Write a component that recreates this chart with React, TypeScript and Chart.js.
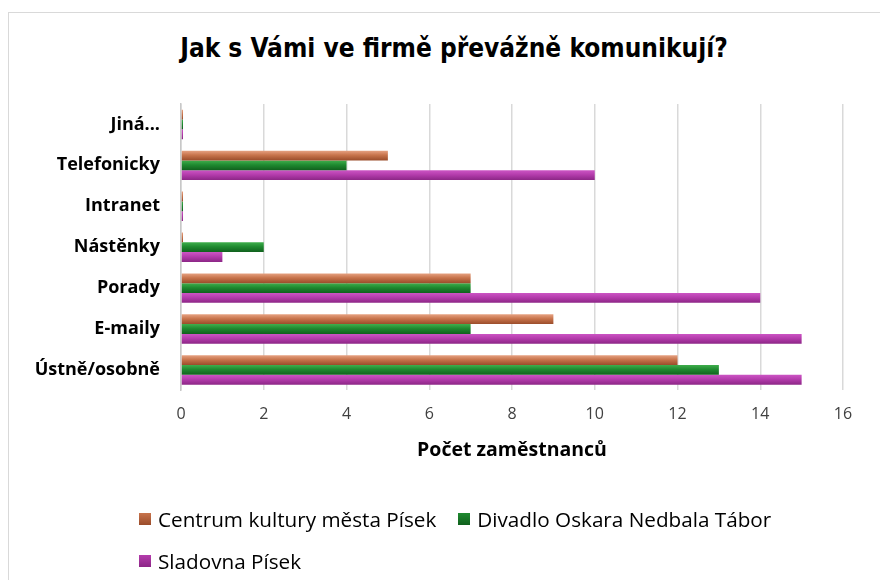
import React, { useEffect, useRef } from 'react';
import { Chart, registerables } from 'chart.js';

Chart.register(...registerables);

const categories = ['Jiná...', 'Telefonicky', 'Intranet', 'Nástěnky', 'Porady', 'E-maily', 'Ústně/osobně'];
const seriesNames = ['Centrum kultury města Písek', 'Divadlo Oskara Nedbala Tábor', 'Sladovna Písek'];
const centrumValues = [0, 5, 0, 0, 7, 9, 12];
const divadloValues = [0, 4, 0, 2, 7, 7, 13];
const sladovnaValues = [0, 10, 0, 1, 14, 15, 15];
const xTicks = [0, 2, 4, 6, 8, 10, 12, 14, 16];
const chartTitle = 'Jak s Vámi ve firmě převážně komunikují?';
const axisTitle = 'Počet zaměstnanců';

const shades = [
  ['#e6a282', '#c8744c', '#9a4c2a'],
  ['#3fae4c', '#1f8a30', '#10601d'],
  ['#cc55c4', '#b43cac', '#8c2686'],
];
const baseColors = ['#c8744c', '#1f8a30', '#b43cac'];

const FONT = "'Open Sans', 'Liberation Sans', sans-serif";
const TITLE_FONT = "'DejaVu Sans Condensed', 'Liberation Sans Narrow', 'Liberation Sans', sans-serif";

const gradientPlugin = {
  id: 'barGradient',
  beforeDatasetsDraw(chart: any) {
    const ctx = chart.ctx;
    chart.data.datasets.forEach((_ds: any, di: number) => {
      const meta = chart.getDatasetMeta(di);
      const st = shades[di];
      meta.data.forEach((bar: any) => {
        const { y, height } = bar.getProps(['y', 'height'], true);
        const top = y - height / 2;
        const g = ctx.createLinearGradient(0, top, 0, top + height);
        g.addColorStop(0, st[0]);
        g.addColorStop(0.45, st[1]);
        g.addColorStop(1, st[2]);
        bar.options = { ...bar.options, backgroundColor: g };
      });
    });
  },
};

export default function App() {
  const ref = useRef<HTMLCanvasElement | null>(null);

  useEffect(() => {
    if (!ref.current) return;
    const chart = new Chart(ref.current, {
      type: 'bar',
      data: {
        labels: categories,
        datasets: [
          { label: seriesNames[0], data: centrumValues },
          { label: seriesNames[1], data: divadloValues },
          { label: seriesNames[2], data: sladovnaValues },
        ],
      },
      plugins: [gradientPlugin],
      options: {
        indexAxis: 'y',
        responsive: false,
        animation: false,
        devicePixelRatio: 1,
        layout: { padding: { left: 20, right: 37, top: 104, bottom: 118 } },
        datasets: {
          bar: {
            categoryPercentage: 0.72,
            barPercentage: 1,
            minBarLength: 2,
            borderWidth: 0,
            backgroundColor: (c: any) => baseColors[c.datasetIndex],
          },
        },
        plugins: {
          legend: { display: false },
          tooltip: { enabled: false },
          title: { display: false },
        },
        scales: {
          x: {
            min: 0,
            max: 16,
            afterBuildTicks(axis: any) {
              axis.ticks = xTicks.map((v) => ({ value: v }));
            },
            grid: { color: '#d9d9d9', drawTicks: false, lineWidth: 1.5 },
            border: { display: false },
            ticks: { color: '#404040', font: { family: FONT, size: 16 }, padding: 14 },
            title: {
              display: true,
              text: axisTitle,
              color: '#000',
              font: { family: FONT, size: 19.5, weight: 'bold' },
              padding: { top: 1, bottom: 0 },
            },
          },
          y: {
            grid: { display: false, drawTicks: false },
            border: { display: true, color: '#c8c8c8', width: 1.5 },
            afterFit(axis: any) {
              axis.width = 161;
            },
            ticks: { color: '#000', font: { family: FONT, size: 18, weight: 'bold' }, padding: 21 },
          },
        },
      },
    } as any);
    return () => chart.destroy();
  }, []);

  const legendItem = (i: number) => (
    <span style={{ display: 'inline-flex', alignItems: 'center', marginRight: 22 }}>
      <span
        style={{
          display: 'inline-block',
          width: 12,
          height: 12,
          marginRight: 7,
          background: `linear-gradient(${shades[i][1]}, ${shades[i][2]})`,
        }}
      />
      <span>{seriesNames[i]}</span>
    </span>
  );

  return (
    <div style={{ position: 'absolute', left: 0, top: 0, width: 880, height: 580, overflow: 'hidden', background: '#fff' }}>
      <div style={{ position: 'absolute', left: 8, top: 12, width: 900, height: 600, border: '1px solid #d9d9d9', boxSizing: 'border-box' }} />
      <div
        style={{
          position: 'absolute',
          left: 0,
          top: 33,
          width: 908,
          textAlign: 'center',
          fontFamily: TITLE_FONT,
          fontWeight: 'bold',
          fontSize: 26,
          lineHeight: '30px',
          color: '#000',
        }}
      >
        {chartTitle}
      </div>
      <canvas ref={ref} width={880} height={580} style={{ position: 'absolute', left: 0, top: 0 }} />
      <div
        style={{
          position: 'absolute',
          left: 139,
          top: 497,
          width: 730,
          fontFamily: FONT,
          fontSize: 20.7,
          color: '#000',
          lineHeight: '40px',
        }}
      >
        <div>{legendItem(0)}{legendItem(1)}</div>
        <div>{legendItem(2)}</div>
      </div>
    </div>
  );
}
